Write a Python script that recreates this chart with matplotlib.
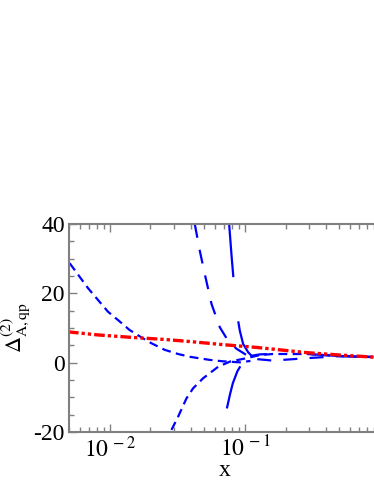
import numpy as np
import matplotlib.pyplot as plt
from matplotlib.ticker import FixedLocator, NullFormatter

plt.rcParams['font.family'] = ['Liberation Serif', 'DejaVu Serif']
plt.rcParams['mathtext.fontset'] = 'stix'

# red dash-dot-dot curve
red_x = [0.00491, 0.00819, 0.01448, 0.02555, 0.03914, 0.06909, 0.0918, 0.1221, 0.1621, 0.2864, 0.5055, 0.892, 1.0]
red_y = [8.9, 8.0, 7.3, 6.7, 6.1, 5.2, 4.8, 4.4, 3.9, 2.9, 2.2, 1.6, 1.5]

# blue long-dash curve, upper branch
a_up_x = [0.07651, 0.0797, 0.0858, 0.0918, 0.0971, 0.1058, 0.1121, 0.1292, 0.16, 0.2864, 0.5055, 0.892]
a_up_y = [40.0, 30.9, 16.0, 9.2, 5.4, 3.0, 2.0, 2.4, 2.5, 2.5, 1.9, 1.6]
# blue long-dash curve, lower branch
a_lo_x = [0.0736, 0.0778, 0.0815, 0.0880, 0.0950, 0.1020, 0.1100]
a_lo_y = [-13.2, -9.0, -5.9, -2.5, -0.3, 1.2, 2.0]

# blue medium-dash curve
b_x = [0.0426, 0.0464, 0.0505, 0.0567, 0.0653, 0.0752, 0.0868, 0.1, 0.1089, 0.1248, 0.1612, 0.2879, 0.5055, 0.892]
b_y = [40.0, 32.3, 25.6, 16.9, 10.2, 6.3, 4.0, 2.5, 1.6, 1.0, 0.6, 1.3, 1.9, 1.7]

# blue short-dash curve from upper left
c_x = [0.005055, 0.006909, 0.008189, 0.009714, 0.01152, 0.01406, 0.01717, 0.02036,
       0.02555, 0.03206, 0.03914, 0.0550, 0.0687, 0.0918, 0.1100]
c_y = [28.7, 21.5, 18.1, 14.7, 12.3, 9.4, 7.3, 5.6, 3.7, 2.5, 1.7, 0.8, 0.4, 0.1, 0.5]

# blue short-dash curve from below
d_x = [0.02864, 0.03206, 0.03698, 0.04139, 0.04909, 0.06336, 0.07743, 0.1029, 0.1292,
       0.1612, 0.2864, 0.5055, 0.892]
d_y = [-19.4, -15.6, -10.3, -7.4, -4.5, -1.2, 0.3, 1.3, 2.2, 2.5, 2.5, 1.9, 1.6]

fig = plt.figure(figsize=(3.74, 4.84), dpi=100)
ax = fig.add_axes([0.1845, 0.1074, 0.8316, 0.4298])

blue = '#0000ff'
ax.plot(c_x, c_y, color=blue, lw=1.6, dashes=(4, 2.4))
ax.plot(d_x, d_y, color=blue, lw=1.6, dashes=(4, 2.4))
ax.plot(b_x, b_y, color=blue, lw=1.6, dashes=(6.3, 5.5))
ax.plot(a_up_x, a_up_y, color=blue, lw=1.6, dashes=(24, 20))
ax.plot(a_lo_x, a_lo_y, color=blue, lw=1.6, dashes=(20, 14))
ax.plot(red_x, red_y, color='#ff0000', lw=2.4, dashes=(3.2, 0.9, 1, 0.9, 1, 0.9))

ax.set_xscale('log')
ax.set_xlim(0.005, 1.0)
ax.set_ylim(-20, 40)

ax.set_yticks([-20, 0, 20, 40])
ax.yaxis.set_minor_locator(FixedLocator(np.arange(-20, 41, 5)))
ax.set_yticklabels(['-20', '0', '20', '40'], fontsize=17)

ax.set_xticks([0.01, 0.1])
ax.set_xticklabels([r'$10^{\,-2}$', r'$10^{\,-1}$'], fontsize=17)
minor = [k * 10.0**e for e in (-3, -2, -1) for k in range(2, 10)]
ax.xaxis.set_minor_locator(FixedLocator(minor))
ax.xaxis.set_minor_formatter(NullFormatter())

for s in ax.spines.values():
    s.set_color('#808080')
    s.set_linewidth(1.5)
ax.tick_params(which='both', direction='in', top=True, right=False, colors='#808080',
               labelcolor='black')
ax.tick_params(which='major', length=6, width=1)
ax.tick_params(which='minor', length=3.5, width=1)
ax.tick_params(axis='x', pad=3)
ax.tick_params(axis='y', pad=3)

ax.set_xlabel('x', fontsize=17, labelpad=-1)
ax.set_ylabel(r'$\Delta^{(2)}_{\mathrm{A,qp}}$', fontsize=16, labelpad=0)

fig.savefig('out.png', dpi=100)
